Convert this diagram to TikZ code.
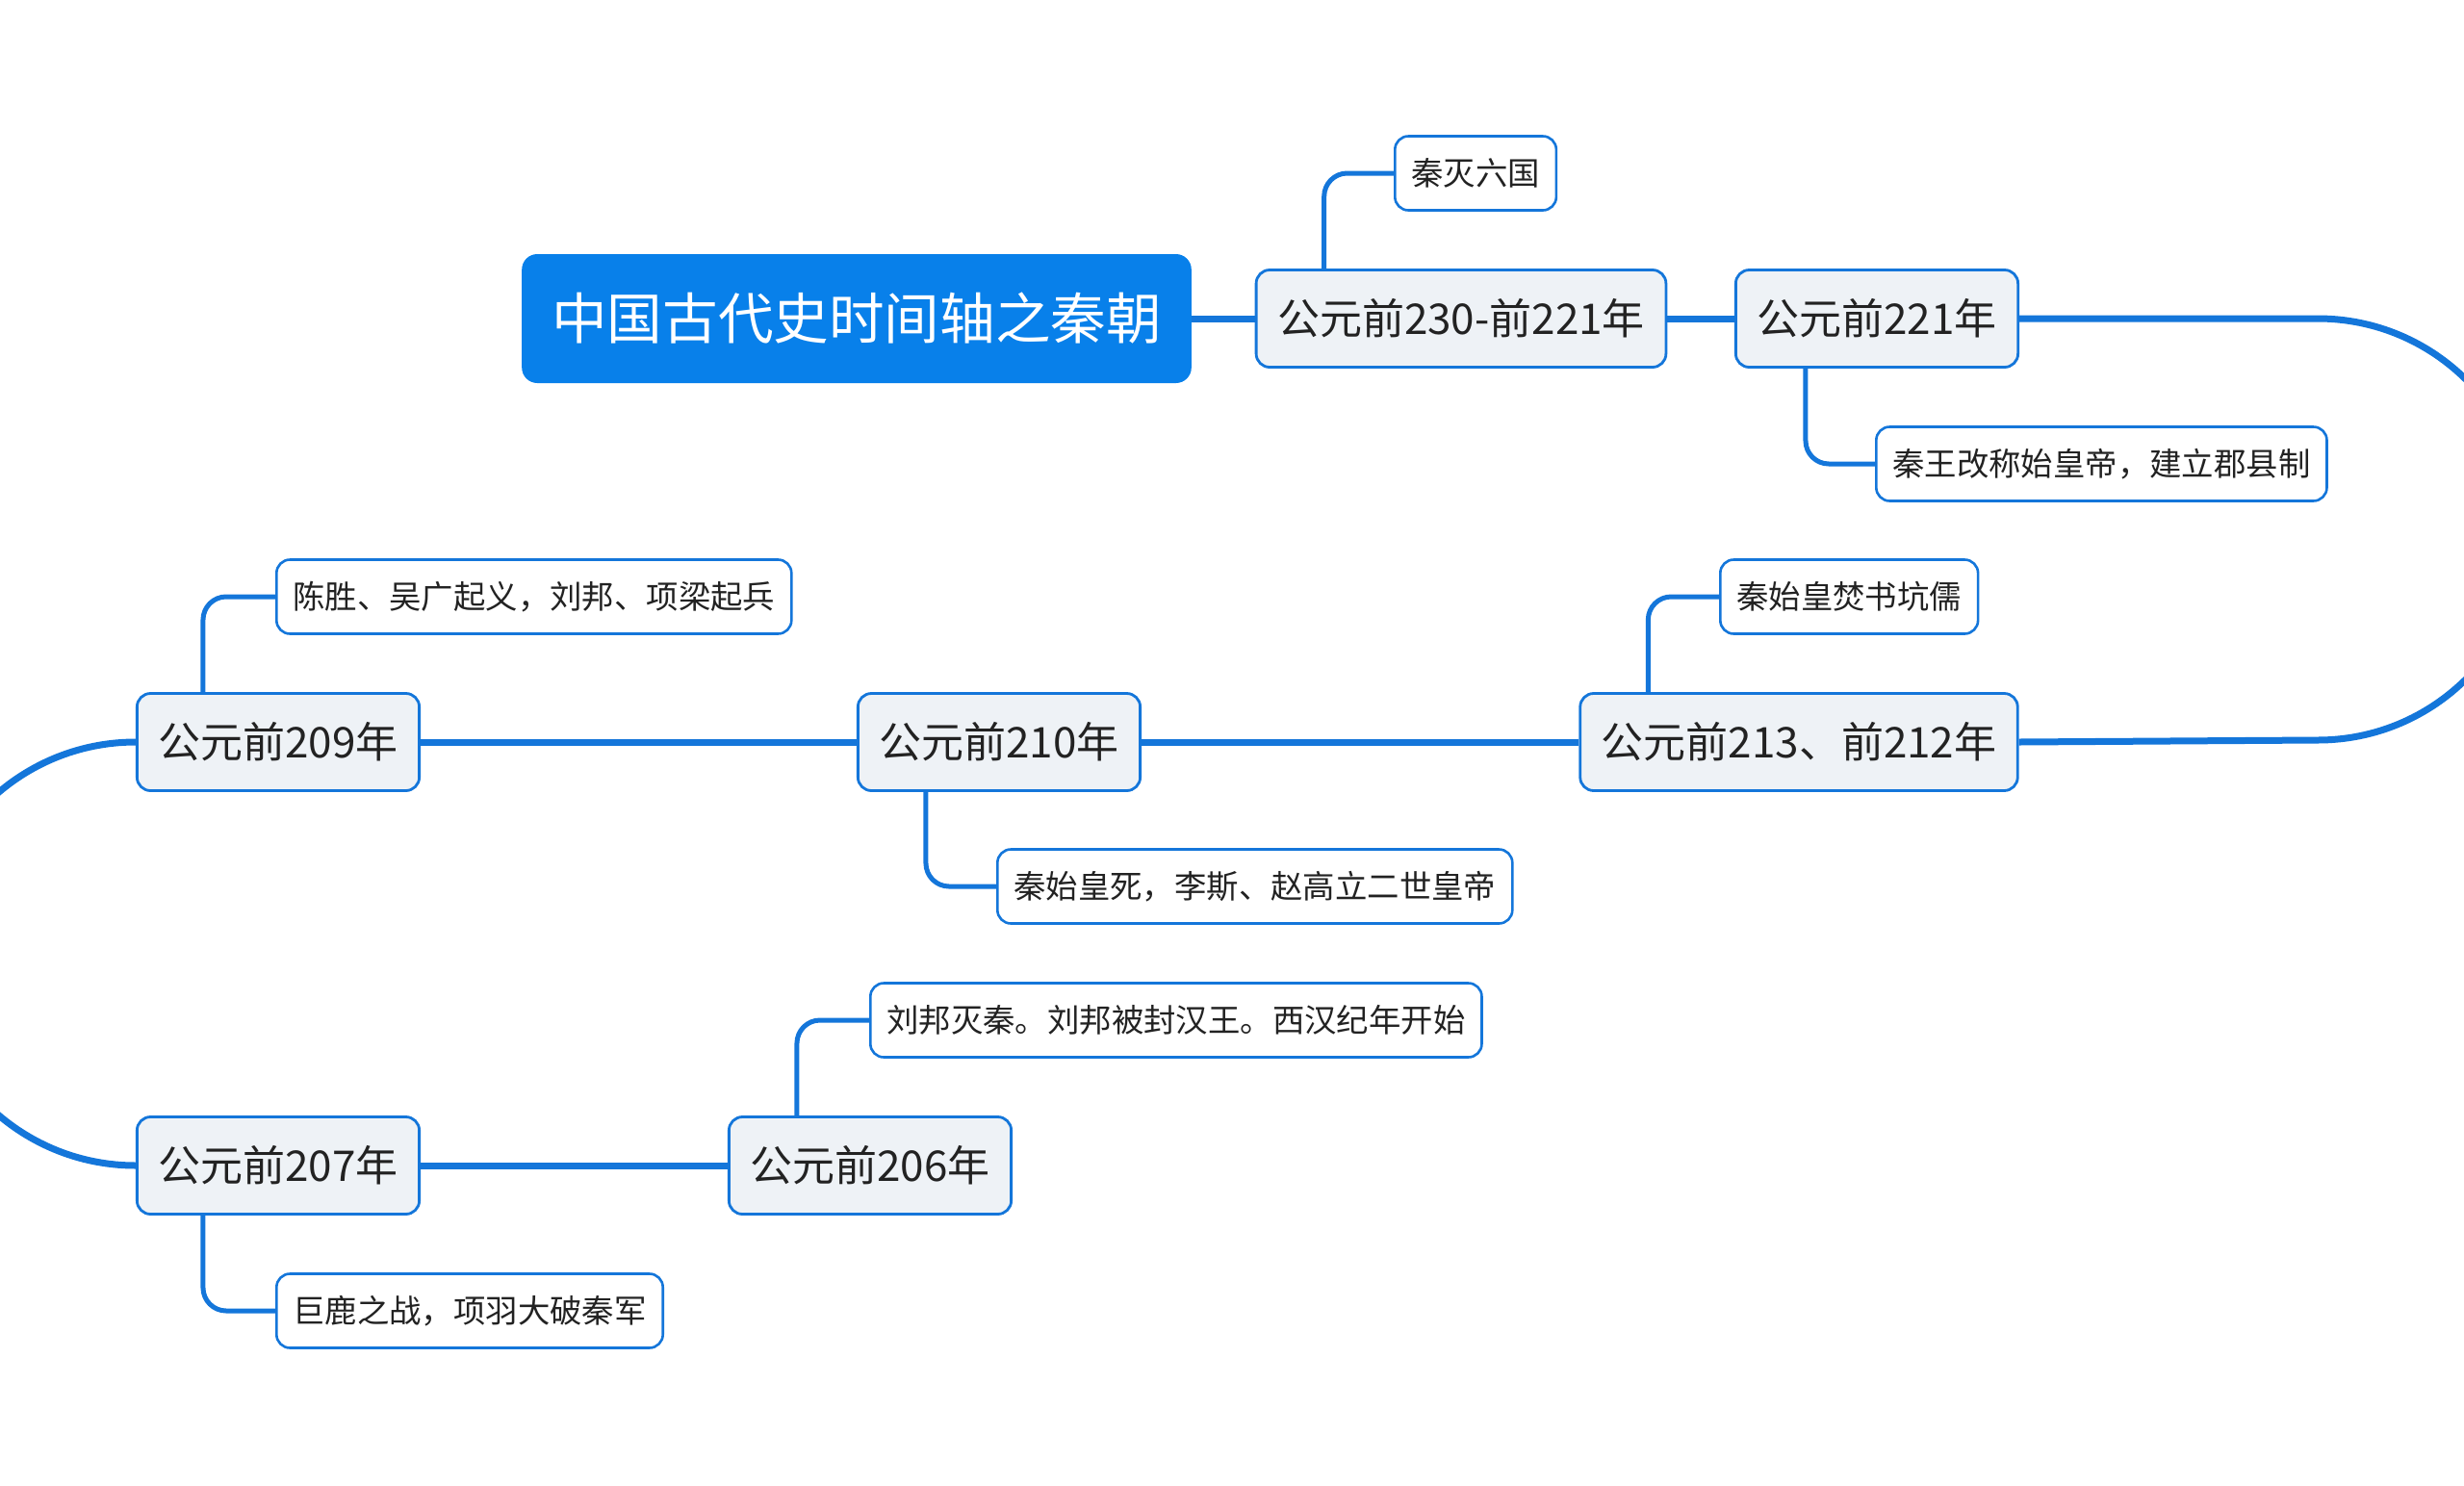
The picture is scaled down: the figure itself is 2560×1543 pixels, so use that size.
\documentclass[tikz,border=0pt]{standalone}
\usepackage{fontspec}
\usepackage{tikz}
\usepackage{xcolor}
\newfontfamily\cjk{Noto Sans CJK SC}
\definecolor{titleblue}{RGB}{8,128,234}
\definecolor{lineblue}{RGB}{20,118,218}
\definecolor{boxgray}{RGB}{238,242,246}
\definecolor{textdark}{RGB}{34,34,34}

\begin{document}
\begin{tikzpicture}[x=0.5pt, y=0.5pt,
        title/.style={rectangle, rounded corners=8pt, fill=titleblue, text=white,
            font=\cjk\fontsize{28.8}{34}\selectfont, minimum height=67pt, inner xsep=15.5pt},
        year/.style={rectangle, rounded corners=7pt, draw=lineblue, line width=1.4pt,
            fill=boxgray, text=textdark, font=\cjk\fontsize{22}{26}\selectfont,
            minimum height=50.5pt, inner xsep=11pt},
        event/.style={rectangle, rounded corners=7pt, draw=lineblue, line width=1.3pt,
            fill=white, text=textdark, font=\cjk\fontsize{16.7}{20}\selectfont,
            minimum height=38.5pt, inner xsep=8.5pt, anchor=west},
        trunk/.style={lineblue, line width=3.5pt},
        branch/.style={lineblue, line width=2.5pt, rounded corners=12pt}]
        \useasboundingbox (0,0) rectangle (2560,-1543);
        \clip (0,0) rectangle (2560,-1543);

        % Titel
        \node[title] (qin) at (890,-331) {中国古代史时间轴之秦朝};

        % Jaartallen
        \node[year] (n230) at (1518,-331) {公元前230-前221年};
        \node[year] (n221) at (1950,-331) {公元前221年};
        \node[year] (n213) at (1869,-771) {公元前213、前212年};
        \node[year] (n210) at (1038,-771) {公元前210年};
        \node[year] (n209) at (289,-771) {公元前209年};
        \node[year] (n207) at (289,-1211) {公元前207年};
        \node[year] (n206) at (904,-1211) {公元前206年};

        % Gebeurtenissen
        \node[event] (e230) at (1448,-180) {秦灭六国};
        \node[event] (e221) at (1948,-482) {秦王改称始皇帝，建立郡县制};
        \node[event] (e213) at (1786,-620) {秦始皇焚书坑儒};
        \node[event] (e210) at (1035,-921) {秦始皇死，李斯、赵高立二世皇帝};
        \node[event] (e209) at (286,-620) {陈胜、吴广起义，刘邦、项梁起兵};
        \node[event] (e207) at (286,-1362) {巨鹿之战，项羽大破秦军};
        \node[event] (e206) at (903,-1060) {刘邦灭秦。刘邦被封汉王。西汉纪年开始};

        % Tijdlijn
        \coordinate (bendR) at (2408,-331);
        \draw[trunk] (qin.east) -- (n230.west);
        \draw[trunk] (n230.east) -- (n221.west);
        \draw[trunk] (n221.east) -- (bendR) arc[start angle=90, end angle=-90, radius=219] -- (n213.east);
        \draw[trunk] (n213.west) -- (n210.east);
        \draw[trunk] (n210.west) -- (n209.east);
        \draw[trunk] (n209.west) arc[start angle=90, end angle=270, radius=220] -- (n207.west);
        \draw[trunk] (n207.east) -- (n206.west);

        % Zijtakken
        \draw[branch] ([xshift=36pt]n230.north west) |- (e230.west);
        \draw[branch] ([xshift=37pt]n221.south west) |- (e221.west);
        \draw[branch] ([xshift=36pt]n213.north west) |- (e213.west);
        \draw[branch] ([xshift=36pt]n210.south west) |- (e210.west);
        \draw[branch] ([xshift=35pt]n209.north west) |- (e209.west);
        \draw[branch] ([xshift=35pt]n207.south west) |- (e207.west);
        \draw[branch] ([xshift=36pt]n206.north west) |- (e206.west);
\end{tikzpicture}
\end{document}
